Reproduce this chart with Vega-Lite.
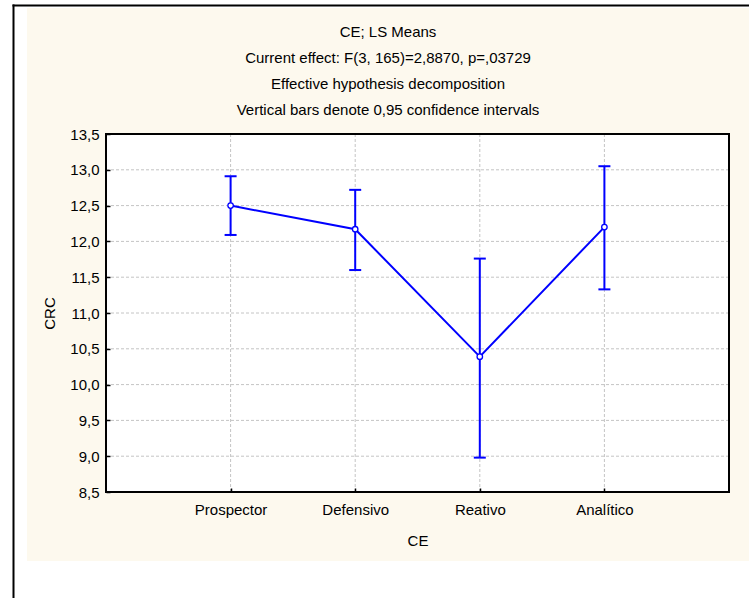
{
  "$schema": "https://vega.github.io/schema/vega-lite/v6.json",
  "width": 722,
  "height": 553,
  "autosize": {"type": "none"},
  "padding": {"left": 27, "top": 8, "right": 0, "bottom": 37},
  "background": "white",
  "config": {
    "view": {"fill": "#fdf9ee", "stroke": null},
    "font": "Liberation Sans",
    "axis": {"labelFont": "Liberation Sans", "titleFont": "Liberation Sans", "labelColor": "black", "titleColor": "black", "labelFontSize": 15, "titleFontSize": 15, "titleFontWeight": "normal"}
  },
  "title": {
    "text": ["CE; LS Means", "Current effect: F(3, 165)=2,8870, p=,03729", "Effective hypothesis decomposition", "Vertical bars denote 0,95 confidence intervals"],
    "font": "Liberation Sans",
    "fontSize": 15,
    "fontWeight": "normal",
    "color": "black",
    "lineHeight": 26,
    "anchor": "middle",
    "frame": "group",
    "offset": -113
  },
  "datasets": {
    "means": [
      {"CE": "Prospector", "idx": 1, "mean": 12.50, "lo": 12.09, "hi": 12.91},
      {"CE": "Defensivo", "idx": 2, "mean": 12.17, "lo": 11.60, "hi": 12.72},
      {"CE": "Reativo", "idx": 3, "mean": 10.39, "lo": 8.98, "hi": 11.76},
      {"CE": "Analítico", "idx": 4, "mean": 12.20, "lo": 11.33, "hi": 13.05}
    ],
    "yticks": [
      {"v": 9}, {"v": 9.5}, {"v": 10}, {"v": 10.5}, {"v": 11}, {"v": 11.5}, {"v": 12}, {"v": 12.5}, {"v": 13}
    ]
  },
  "data": {"name": "means"},
  "layer": [
    {
      "layer": [
        {
          "data": {"values": [{}]},
          "mark": {"type": "rect", "fill": "white"},
          "encoding": {
            "x": {"datum": 0, "type": "quantitative", "title": "CE", "scale": {"domain": [0, 5], "range": [79, 702], "nice": false, "zero": false}},
            "x2": {"datum": 5},
            "y": {"datum": 8.5, "type": "quantitative", "title": "CRC", "scale": {"domain": [8.5, 13.5], "range": [484, 126], "nice": false, "zero": false}},
            "y2": {"datum": 13.5}
          }
        },
        {
          "data": {"name": "yticks"},
          "mark": {"type": "rule", "color": "#c4c4c4", "strokeWidth": 1, "strokeDash": [3, 2]},
          "encoding": {
            "x": {"datum": 0, "type": "quantitative", "title": "CE"},
            "x2": {"datum": 5},
            "y": {"field": "v", "type": "quantitative", "title": "CRC"}
          }
        },
        {
          "mark": {"type": "rule", "color": "#c4c4c4", "strokeWidth": 1, "strokeDash": [3, 2]},
          "encoding": {
            "x": {"field": "idx", "type": "quantitative", "title": "CE"},
            "y": {"datum": 8.5, "type": "quantitative", "title": "CRC"},
            "y2": {"datum": 13.5}
          }
        },
        {
          "mark": {"type": "rule", "color": "#0000ff", "strokeWidth": 2},
          "encoding": {
            "x": {"field": "idx", "type": "quantitative", "title": "CE", "scale": {"domain": [0, 5], "range": [79, 702], "nice": false, "zero": false},
              "axis": {"orient": "bottom", "offset": -69, "values": [1, 2, 3, 4], "labelExpr": "datum.value == 1 ? 'Prospector' : datum.value == 2 ? 'Defensivo' : datum.value == 3 ? 'Reativo' : datum.value == 4 ? 'Analítico' : ''", "domain": false, "ticks": true, "tickSize": -4, "tickColor": "black", "tickWidth": 1.5, "labelPadding": 14, "labelOverlap": false, "labelFlush": false, "grid": false, "titlePadding": 16, "zindex": 1}},
            "y": {"field": "lo", "type": "quantitative", "title": "CRC", "scale": {"domain": [8.5, 13.5], "range": [484, 126], "nice": false, "zero": false},
              "axis": {"orient": "left", "offset": -79, "values": [8.5, 9, 9.5, 10, 10.5, 11, 11.5, 12, 12.5, 13, 13.5], "labelExpr": "replace(format(datum.value, '.1f'), '.', ',')", "domain": false, "ticks": true, "tickSize": -4, "tickColor": "black", "tickWidth": 1.5, "labelPadding": 11, "labelOverlap": false, "labelFlush": false, "grid": false, "titlePadding": 12, "zindex": 1}},
            "y2": {"field": "hi"}
          }
        },
        {
          "mark": {"type": "rule", "color": "#0000ff", "strokeWidth": 2, "xOffset": -6, "x2Offset": 6},
          "encoding": {
            "x": {"field": "idx", "type": "quantitative", "title": "CE"},
            "x2": {"field": "idx"},
            "y": {"field": "hi", "type": "quantitative", "title": "CRC"}
          }
        },
        {
          "mark": {"type": "rule", "color": "#0000ff", "strokeWidth": 2, "xOffset": -6, "x2Offset": 6},
          "encoding": {
            "x": {"field": "idx", "type": "quantitative", "title": "CE"},
            "x2": {"field": "idx"},
            "y": {"field": "lo", "type": "quantitative", "title": "CRC"}
          }
        },
        {
          "mark": {"type": "line", "color": "#0000ff", "strokeWidth": 2},
          "encoding": {
            "x": {"field": "idx", "type": "quantitative", "title": "CE"},
            "y": {"field": "mean", "type": "quantitative", "title": "CRC"}
          }
        },
        {
          "mark": {"type": "point", "filled": true, "fill": "white", "stroke": "#0000ff", "strokeWidth": 1.3, "size": 30, "opacity": 1},
          "encoding": {
            "x": {"field": "idx", "type": "quantitative", "title": "CE"},
            "y": {"field": "mean", "type": "quantitative", "title": "CRC"}
          }
        },
        {
          "data": {"values": [{}]},
          "mark": {"type": "rect", "fillOpacity": 0, "stroke": "black", "strokeWidth": 2},
          "encoding": {
            "x": {"datum": 0, "type": "quantitative", "title": "CE"},
            "x2": {"datum": 5},
            "y": {"datum": 8.5, "type": "quantitative", "title": "CRC"},
            "y2": {"datum": 13.5}
          }
        }
      ]
    },
    {
      "mark": {"type": "point", "opacity": 0},
      "encoding": {
        "x": {"field": "idx", "type": "quantitative", "scale": {"domain": [0, 5], "range": [-15, 722], "nice": false, "zero": false},
          "axis": {"orient": "top", "offset": 3, "domain": true, "domainColor": "black", "domainWidth": 2, "ticks": false, "labels": false, "grid": false, "title": null}},
        "y": {"field": "mean", "type": "quantitative", "scale": {"domain": [8, 14], "range": [590, -4], "nice": false, "zero": false},
          "axis": {"orient": "left", "offset": 14, "domain": true, "domainColor": "black", "domainWidth": 2, "ticks": false, "labels": false, "grid": false, "title": null}}
      }
    }
  ],
  "resolve": {"scale": {"x": "independent", "y": "independent"}, "axis": {"x": "independent", "y": "independent"}}
}
